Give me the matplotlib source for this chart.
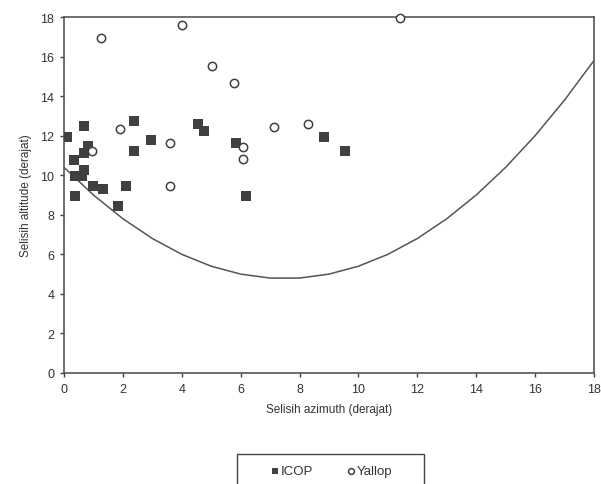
import numpy as np
import matplotlib.pyplot as plt
from matplotlib.patches import Rectangle

plt.rcParams['font.family'] = ['Liberation Sans', 'DejaVu Sans']

# ICOP observations (selisih azimuth, selisih altitude)
icop_daz = [0.09, 0.69, 2.38, 0.82, 0.68, 0.33, 0.69, 0.37, 0.60, 0.97, 1.33,
            2.10, 0.38, 1.82, 2.38, 2.94, 4.54, 4.77, 5.84, 6.18, 8.83, 9.55]
icop_arcv = [11.94, 12.47, 12.72, 11.46, 11.14, 10.76, 10.25, 9.95, 9.95, 9.45, 9.28,
             9.45, 8.96, 8.46, 11.25, 11.78, 12.61, 12.24, 11.63, 8.96, 11.94, 11.25]

# Yallop observations
yallop_daz = [1.26, 4.00, 5.02, 5.76, 1.91, 0.94, 3.60, 3.60, 6.09, 6.09, 7.12, 8.30, 11.42]
yallop_arcv = [16.94, 17.62, 15.53, 14.66, 12.35, 11.23, 11.63, 9.43, 11.43, 10.84, 12.44, 12.57, 17.95]

# criterion curve read at each degree of azimuth
curve_daz = list(range(19))
curve_arcv = [10.4, 9.0, 7.8, 6.8, 6.0, 5.4, 5.0, 4.8, 4.8, 5.0, 5.4,
              6.0, 6.8, 7.8, 9.0, 10.4, 12.0, 13.8, 15.8]

W, H = 601, 485
fig = plt.figure(figsize=(W/100, H/100), dpi=100)
ax = fig.add_axes([64/W, 1 - 374/H, (594-64)/W, (374-18)/H])

ax.plot(curve_daz, curve_arcv, color='#555555', lw=1.1, zorder=2)
ax.scatter(icop_daz, icop_arcv, marker='s', s=42, color='#404040', label='ICOP',
           zorder=3, linewidths=0)
ax.scatter(yallop_daz, yallop_arcv, marker='o', s=36, facecolor='white',
           edgecolor='#404040', linewidths=1.1, label='Yallop', zorder=4, clip_on=False)

ax.set_xlim(0, 18)
ax.set_ylim(0, 18)
ax.set_xticks(range(0, 19, 2))
ax.set_yticks(range(0, 19, 2))
ax.tick_params(direction='out', length=3, width=1, color='#404040',
               labelsize=9, labelcolor='#333333', pad=4)
for s in ax.spines.values():
    s.set_color('#555555')
    s.set_linewidth(1.2)

ax.set_xlabel('Selisih azimuth (derajat)', fontsize=8.5, color='#333333', labelpad=6)
ax.set_ylabel('Selisih altitude (derajat)', fontsize=8.5, color='#333333', labelpad=6)

# legend box (runs off the bottom edge like the reference)
fig.patches.append(Rectangle((237/W, 1 - 492/H), (424-237)/W, (492-455)/H,
                             transform=fig.transFigure, fill=False,
                             edgecolor='#444444', lw=1.0))
leg = fig.legend(loc='center left', bbox_to_anchor=(270/W, 1 - 472/H), ncol=2,
                 frameon=False, fontsize=9.5, handletextpad=0.0,
                 columnspacing=2.5, borderpad=0, handlelength=0.8,
                 borderaxespad=0, markerscale=0.7)
for t in leg.get_texts():
    t.set_color('#333333')

fig.savefig('out.png', dpi=100)
